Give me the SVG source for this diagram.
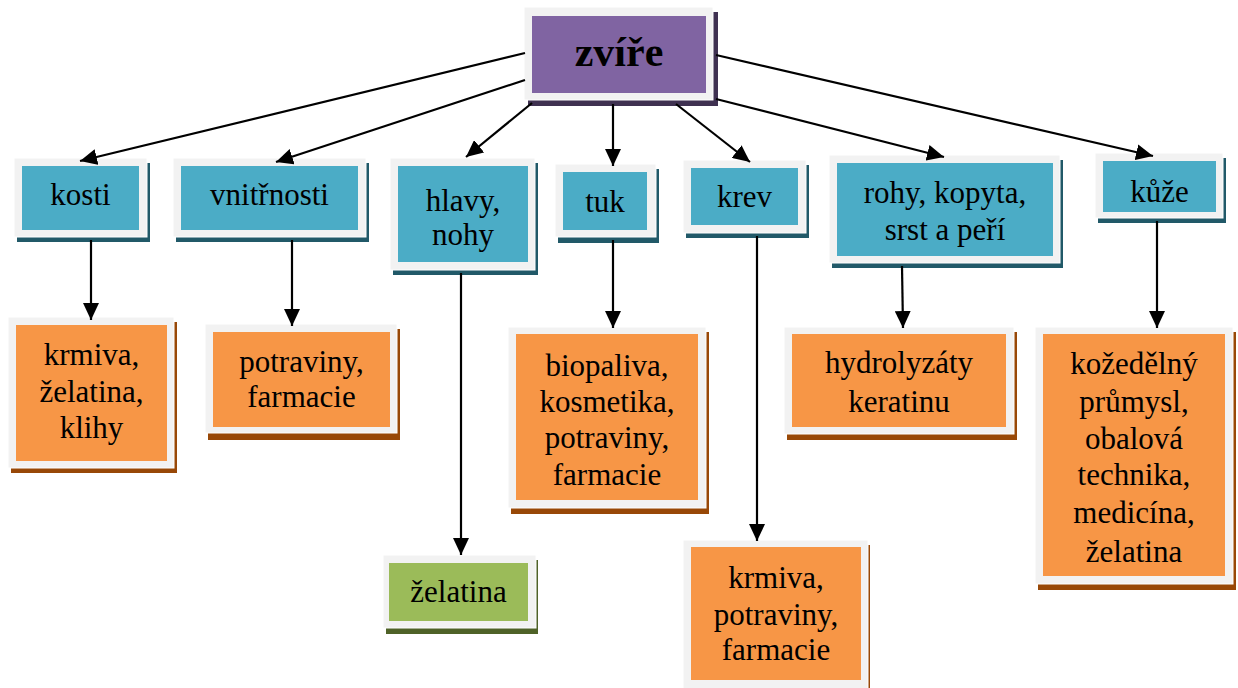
<svg xmlns="http://www.w3.org/2000/svg" width="1238" height="688" viewBox="0 0 1238 688" font-family="'Liberation Serif', 'Times New Roman', 'DejaVu Serif', serif">
<style>
.frame{fill:#f2f2f2;stroke:#ffffff;stroke-width:1}
.sb{fill:#215968}.b{fill:#4bacc6}
.so{fill:#984807}.o{fill:#f79646}
.sg{fill:#4f6228}.g{fill:#9bbb59}
.sp{fill:#3f3151}.p{fill:#8064a2}
.t{font-family:'Liberation Serif','Times New Roman',serif;font-size:31px;fill:#000;text-anchor:middle}
.title{font-size:42px;font-weight:bold}
.c{stroke:#000;stroke-width:2.2;fill:none;marker-end:url(#ah)}
</style>
<defs>
<marker id="ah" markerUnits="userSpaceOnUse" markerWidth="18" markerHeight="16" refX="17" refY="8" orient="auto">
<path d="M0,0 L17,8 L0,16 Z" fill="#000"/>
</marker>
</defs>
<rect width="1238" height="688" fill="#fff"/>

<g id="zvire">
<rect class="sp" x="528" y="12" width="190" height="94"/>
<rect class="frame" x="524" y="7" width="189" height="93"/>
<rect class="p" x="532" y="16" width="174" height="77"/>
<text class="t title" x="619" y="66">zvíře</text>
</g>

<g id="kosti">
<rect class="sb" x="17" y="163" width="133" height="79"/>
<rect class="frame" x="14" y="158" width="133" height="79"/>
<rect class="b" x="22" y="166" width="117" height="64"/>
<text class="t" x="80.5" y="205">kosti</text>
</g>

<g id="vnitrnosti">
<rect class="sb" x="176" y="163" width="193" height="79"/>
<rect class="frame" x="173" y="158" width="193" height="79"/>
<rect class="b" x="181" y="166" width="177" height="64"/>
<text class="t" x="269.5" y="205">vnitřnosti</text>
</g>

<g id="hlavy">
<rect class="sb" x="393" y="163" width="145" height="112"/>
<rect class="frame" x="390" y="158" width="145" height="112"/>
<rect class="b" x="398" y="166" width="130" height="96"/>
<text class="t" x="463" y="211">hlavy,</text>
<text class="t" x="463" y="245">nohy</text>
</g>

<g id="tuk">
<rect class="sb" x="558" y="169" width="101" height="74"/>
<rect class="frame" x="555" y="164" width="101" height="73"/>
<rect class="b" x="563" y="172" width="84" height="58"/>
<text class="t" x="605" y="212">tuk</text>
</g>

<g id="krev">
<rect class="sb" x="686" y="165" width="123" height="73"/>
<rect class="frame" x="683" y="160" width="123" height="73"/>
<rect class="b" x="691" y="168" width="107" height="57"/>
<text class="t" x="744.5" y="207">krev</text>
</g>

<g id="rohy">
<rect class="sb" x="832" y="160" width="231" height="108"/>
<rect class="frame" x="829" y="155" width="231" height="108"/>
<rect class="b" x="837" y="163" width="216" height="93"/>
<text class="t" x="945" y="203">rohy, kopyta,</text>
<text class="t" x="945" y="240">srst a peří</text>
</g>

<g id="kuze">
<rect class="sb" x="1098" y="158" width="128" height="65"/>
<rect class="frame" x="1095" y="153" width="128" height="65"/>
<rect class="b" x="1103" y="161" width="113" height="51"/>
<text class="t" x="1159.5" y="202">kůže</text>
</g>

<g id="krmiva1">
<rect class="so" x="11" y="322" width="166" height="151"/>
<rect class="frame" x="8" y="317" width="166" height="151"/>
<rect class="o" x="16" y="325" width="151" height="136"/>
<text class="t" x="91.5" y="365">krmiva,</text>
<text class="t" x="91.5" y="402">želatina,</text>
<text class="t" x="91.5" y="438">klihy</text>
</g>

<g id="potraviny1">
<rect class="so" x="208" y="329" width="192" height="111"/>
<rect class="frame" x="205" y="324" width="192" height="109"/>
<rect class="o" x="213" y="332" width="177" height="95"/>
<text class="t" x="301.5" y="372">potraviny,</text>
<text class="t" x="301.5" y="407">farmacie</text>
</g>

<g id="zelatina">
<rect class="sg" x="386" y="560" width="152" height="74"/>
<rect class="frame" x="383" y="555" width="153" height="73"/>
<rect class="g" x="389" y="563" width="139" height="58"/>
<text class="t" x="458.5" y="602">želatina</text>
</g>

<g id="biopaliva">
<rect class="so" x="511" y="332" width="198" height="182"/>
<rect class="frame" x="508" y="327" width="198" height="181"/>
<rect class="o" x="516" y="334" width="182" height="166"/>
<text class="t" x="607" y="376">biopaliva,</text>
<text class="t" x="607" y="412">kosmetika,</text>
<text class="t" x="607" y="448">potraviny,</text>
<text class="t" x="607" y="485">farmacie</text>
</g>

<g id="krmiva2">
<rect class="so" x="686" y="545" width="184" height="150"/>
<rect class="frame" x="683" y="540" width="185" height="150"/>
<rect class="o" x="691" y="547" width="170" height="133"/>
<text class="t" x="776" y="588">krmiva,</text>
<text class="t" x="776" y="625">potraviny,</text>
<text class="t" x="776" y="660">farmacie</text>
</g>

<g id="hydrolyzaty">
<rect class="so" x="787" y="332" width="230" height="108"/>
<rect class="frame" x="784" y="327" width="230" height="107"/>
<rect class="o" x="792" y="334" width="214" height="93"/>
<text class="t" x="899" y="373">hydrolyzáty</text>
<text class="t" x="899" y="412">keratinu</text>
</g>

<g id="kozedelny">
<rect class="so" x="1038" y="332" width="198" height="258"/>
<rect class="frame" x="1035" y="327" width="198" height="257"/>
<rect class="o" x="1043" y="334" width="182" height="242"/>
<text class="t" x="1134" y="374">kožedělný</text>
<text class="t" x="1134" y="412">průmysl,</text>
<text class="t" x="1134" y="449">obalová</text>
<text class="t" x="1134" y="485">technika,</text>
<text class="t" x="1134" y="523">medicína,</text>
<text class="t" x="1134" y="562">želatina</text>
</g>

<g id="connectors">
<line class="c" x1="525" y1="53" x2="80" y2="161"/>
<line class="c" x1="525" y1="80" x2="276" y2="162"/>
<line class="c" x1="532" y1="103" x2="466" y2="157"/>
<line class="c" x1="613" y1="104" x2="613" y2="166"/>
<line class="c" x1="676" y1="104" x2="750" y2="162"/>
<line class="c" x1="716" y1="99" x2="944" y2="157"/>
<line class="c" x1="716" y1="55" x2="1153" y2="156"/>
<line class="c" x1="91" y1="240" x2="91" y2="320"/>
<line class="c" x1="292" y1="240" x2="292" y2="326"/>
<line class="c" x1="461" y1="273" x2="461" y2="555"/>
<line class="c" x1="613" y1="240" x2="613" y2="328"/>
<line class="c" x1="757" y1="236" x2="757" y2="541"/>
<line class="c" x1="902" y1="266" x2="903" y2="328"/>
<line class="c" x1="1157" y1="221" x2="1157" y2="328"/>
</g>
</svg>
